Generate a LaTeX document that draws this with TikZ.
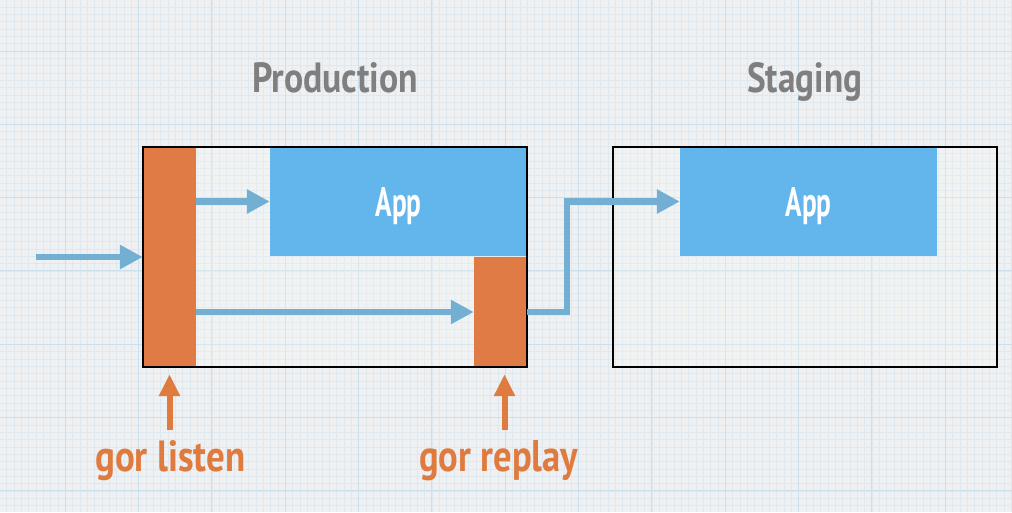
\documentclass[tikz,border=0pt]{standalone}
\usepackage{fontspec}
\newfontfamily\hand{PT Sans}
\usetikzlibrary{arrows.meta,calc}
\definecolor{bgc}{HTML}{EEF0F1}
\definecolor{minorc}{HTML}{DEE8EE}
\definecolor{majorc}{HTML}{CBE0EC}
\definecolor{orangec}{HTML}{E07B45}
\definecolor{appc}{HTML}{63B6EB}
\definecolor{flowc}{HTML}{72AFD2}
\definecolor{titlec}{HTML}{7F7F7F}
\definecolor{lblc}{HTML}{E07B3F}
\tikzset{
  minorline/.style={draw=minorc, line width=0.5pt},
  majorline/.style={draw=majorc, line width=1pt},
  frame/.style={fill=white, fill opacity=0.2, inner sep=0pt},
  border/.style={draw=black, line width=2pt},
  bar/.style={fill=orangec, inner sep=0pt, minimum width=53pt},
  appbox/.style={fill=appc, inner sep=0pt, minimum width=257pt, minimum height=109pt, text=white, text depth=0pt},
  flow/.style={draw=flowc, line width=6.3pt, line join=miter, -{Triangle[length=23pt,width=23pt]}},
  uparrow/.style={draw=lblc, line width=6pt, -{Triangle[length=22pt,width=20pt]}},
  txt/.style={inner sep=0pt, font=\hand\bfseries}
}
\begin{document}
\begin{tikzpicture}[x=1pt,y=-1pt]
\useasboundingbox (0,0) rectangle (1012,512);
\fill[bgc] (0,0) rectangle (1012,512);
% grid
\foreach \i in {0,...,137} \draw[minorline] ({6.66+7.333*\i},0) -- ++(0,512);
\foreach \i in {0,...,69} \draw[minorline] (0,{7.0+7.333*\i}) -- ++(1012,0);
\foreach \i in {0,...,13} \draw[majorline] ({65.3+73.33*\i},0) -- ++(0,512);
\foreach \i in {0,...,6} \draw[majorline] (0,{51+73.33*\i}) -- ++(1012,0);
% frames
\node[frame, minimum width=384pt, minimum height=220pt] (prodbox) at (335,257) {};
\node[frame, minimum width=384pt, minimum height=220pt] (stagebox) at (805,257) {};
% bars
\node[bar, minimum height=220pt] (listenbar) at (169.5,257) {};
\node[bar, minimum height=110pt] (replaybar) at (500.5,312) {};
% apps
\node[appbox] (app1) at (398.5,201.5) {\resizebox{46pt}{29pt}{\hand\bfseries App}};
\node[appbox] (app2) at (808.5,201.5) {\resizebox{46pt}{29pt}{\hand\bfseries App}};
% borders
\draw[border] (prodbox.south west) rectangle (prodbox.north east);
\draw[border] (stagebox.south west) rectangle (stagebox.north east);
% titles
\node[txt, text=titlec, anchor=base west] (ptitle) at (252,92) {\resizebox{166pt}{30pt}{Production}};
\node[txt, text=titlec, anchor=base west] (stitle) at (747,92) {\resizebox{115pt}{30pt}{Staging}};
% labels
\node[txt, text=lblc, anchor=base west] (listenlbl) at (95,471) {\resizebox{150pt}{31pt}{gor listen}};
\node[txt, text=lblc, anchor=base west] (replaylbl) at (419,471) {\resizebox{159pt}{31pt}{gor replay}};
% flows
\coordinate (src) at (36,257);
\draw[flow] (src) -- (listenbar.west);
\draw[flow] (listenbar.east |- app1.west) -- (app1.west);
\draw[flow] (listenbar.east |- replaybar.west) -- (replaybar.west);
\draw[flow] (replaybar.east) -- ++(40,0) |- (app2.west);
% label arrows
\draw[uparrow, shorten <=10pt, shorten >=7pt] (listenlbl.north -| listenbar.south) -- (listenbar.south);
\draw[uparrow, shorten <=10pt, shorten >=7pt] ([xshift=4pt]replaylbl.north -| replaybar.south) -- ([xshift=4pt]replaybar.south);
\end{tikzpicture}
\end{document}
